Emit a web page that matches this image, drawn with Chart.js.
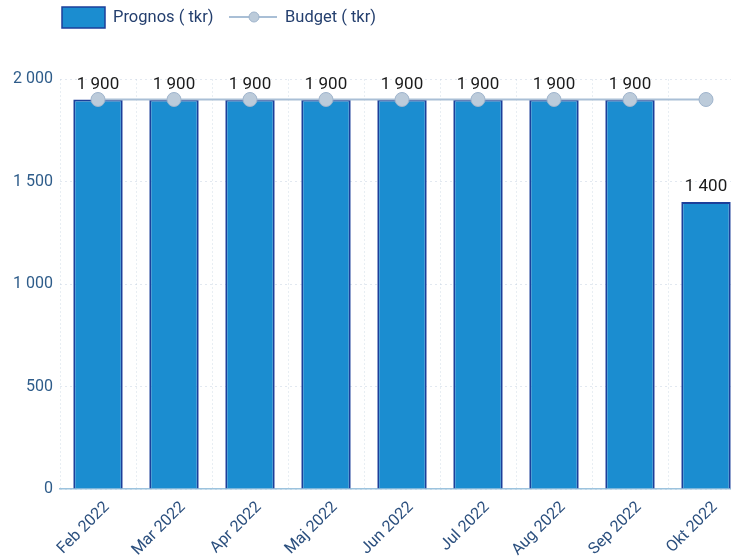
<!DOCTYPE html>
<html>
<head>
<meta charset="utf-8">
<script src="https://cdn.jsdelivr.net/npm/chart.js@4.4.1/dist/chart.umd.min.js"></script>
<style>
  html, body { margin: 0; padding: 0; background: #fff; overflow: hidden; }
  #wrap { width: 752px; height: 560px; }
</style>
</head>
<body>
<div id="wrap"><canvas id="grafico" width="752" height="560"></canvas></div>
<script>
const manader = ["Feb 2022", "Mar 2022", "Apr 2022", "Maj 2022", "Jun 2022", "Jul 2022", "Aug 2022", "Sep 2022", "Okt 2022"];
const prognos = [1900, 1900, 1900, 1900, 1900, 1900, 1900, 1900, 1400];
const budget = [1900, 1900, 1900, 1900, 1900, 1900, 1900, 1900, 1900];
const yTicks = [0, 500, 1000, 1500, 2000];

const formatera = v => String(v).replace(/\B(?=(\d{3})+(?!\d))/g, " ");

const typsnitt = "Roboto, 'Noto Sans', sans-serif";
const stapelFarg = "#1b8dd0";
const stapelKant = "#1c3f9a";
const linjeFarg = "#a9bfd6";
const punktFarg = "#bccbda";

// etiketter ovanför staplarna
const stapelEtiketter = {
    id: "stapelEtiketter",
    afterDatasetsDraw(chart) {
        const ctx = chart.ctx;
        const meta = chart.getDatasetMeta(0);
        ctx.save();
        ctx.font = "17px " + typsnitt;
        ctx.fillStyle = "#1a1a1a";
        ctx.textAlign = "center";
        ctx.textBaseline = "middle";
        meta.data.forEach((bar, i) => {
            ctx.fillText(formatera(prognos[i]), bar.x, bar.y - 15);
        });
        ctx.restore();
    }
};

// egen legend överst till vänster
const egenLegend = {
    id: "egenLegend",
    afterDraw(chart) {
        const ctx = chart.ctx;
        ctx.save();
        ctx.font = "16.5px " + typsnitt;
        ctx.textBaseline = "middle";
        ctx.fillStyle = stapelFarg;
        ctx.fillRect(62, 7, 43, 21);
        ctx.strokeStyle = stapelKant;
        ctx.lineWidth = 1.5;
        ctx.strokeRect(62, 7, 43, 21);
        ctx.fillStyle = "#243f6e";
        ctx.fillText("Prognos ( tkr)", 113, 18);

        ctx.strokeStyle = linjeFarg;
        ctx.lineWidth = 2;
        ctx.beginPath();
        ctx.moveTo(229, 17);
        ctx.lineTo(277, 17);
        ctx.stroke();
        ctx.beginPath();
        ctx.arc(254, 17, 5, 0, Math.PI * 2);
        ctx.fillStyle = punktFarg;
        ctx.fill();
        ctx.strokeStyle = "#9fb4cc";
        ctx.lineWidth = 1;
        ctx.stroke();
        ctx.fillStyle = "#243f6e";
        ctx.fillText("Budget ( tkr)", 285, 18);
        ctx.restore();
    }
};

const ctx = document.getElementById("grafico").getContext("2d");

new Chart(ctx, {
    data: {
        labels: manader,
        datasets: [
            {
                type: "bar",
                label: "Prognos ( tkr)",
                data: prognos,
                backgroundColor: stapelFarg,
                borderColor: stapelKant,
                borderWidth: { left: 2, right: 2, top: 2, bottom: 0 },
                borderSkipped: false,
                categoryPercentage: 0.65,
                barPercentage: 1,
                order: 1
            },
            {
                type: "line",
                label: "Budget ( tkr)",
                data: budget,
                borderColor: linjeFarg,
                borderWidth: 2,
                pointRadius: 7,
                pointBackgroundColor: punktFarg,
                pointBorderColor: "#9fb4cc",
                pointBorderWidth: 1,
                order: 0
            }
        ]
    },
    options: {
        responsive: false,
        animation: false,
        layout: { padding: { top: 79, left: 0, right: 0, bottom: 0 } },
        plugins: {
            legend: { display: false },
            tooltip: { enabled: false }
        },
        scales: {
            x: {
                grid: {
                    display: true,
                    color: "rgba(190, 205, 222, 0.35)",
                    drawTicks: false
                },
                border: { display: true, color: "#9cc3de", width: 1.5, dash: [2, 2] },
                ticks: {
                    color: "#2b4f7e",
                    font: { size: 16, family: typsnitt },
                    maxRotation: 45,
                    minRotation: 45,
                    padding: 9,
                    labelOffset: 9
                },
                afterFit(scale) { scale.height = 71; }
            },
            y: {
                min: 0,
                max: 2000,
                afterBuildTicks(scale) { scale.ticks = yTicks.map(v => ({ value: v })); },
                grid: {
                    color: "rgba(190, 205, 222, 0.45)",
                    drawTicks: false
                },
                border: { display: false, dash: [2, 3] },
                ticks: {
                    color: "#2e5c8a",
                    font: { size: 16, family: typsnitt },
                    padding: 7,
                    callback: v => formatera(v)
                },
                afterFit(scale) { scale.width = 60; }
            }
        }
    },
    plugins: [stapelEtiketter, egenLegend]
});
</script>
</body>
</html>
